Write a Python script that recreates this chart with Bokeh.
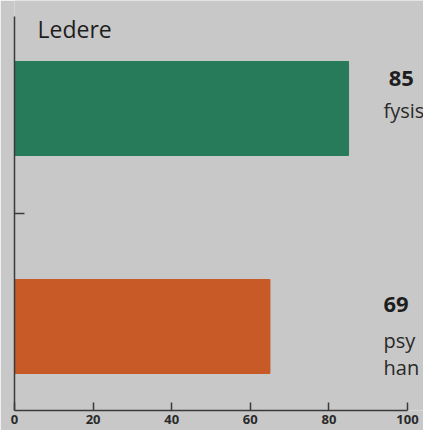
from bokeh.plotting import figure
from bokeh.models import Range1d, LinearAxis, FixedTicker
from bokeh.core.properties import value
from bokeh.embed import file_html
from bokeh.resources import INLINE

# data
categories = ["fysisk", "psykisk"]
bar_values = [85, 65]
value_labels = ["85", "69"]
desc_first = ["fysis", "psy"]
desc_second = ["han"]
group_title = "Ledere"
x_ticks = [0, 20, 40, 60, 80, 100]
colors = ["#277b5a", "#c75a27"]

ypos = [len(categories) - 1 - i for i in range(len(categories))]

FONT = "Open Sans"
BG = "#c8c8c8"
INK = "#1e1e1e"

p = figure(width=423, height=430, output_backend="svg", toolbar_location=None,
           x_range=Range1d(0, 104.07), y_range=Range1d(-0.3853, 1.4954),
           min_border_left=14, min_border_right=0, min_border_top=0, min_border_bottom=20,
           x_axis_location=None, y_axis_location=None)
p.background_fill_color = BG
p.border_fill_color = BG
p.outline_line_color = None
p.xgrid.visible = False
p.ygrid.visible = False

p.hbar(y=ypos, right=bar_values, left=0, height=0.431, fill_color=colors,
       line_color=colors)

xaxis = LinearAxis(ticker=FixedTicker(ticks=x_ticks), bounds=(0, 100))
xaxis.major_tick_in = 8
xaxis.major_tick_out = 0
xaxis.minor_tick_line_color = None
xaxis.axis_line_color = "#3a3a3a"
xaxis.axis_line_width = 1.5
xaxis.major_tick_line_color = "#3a3a3a"
xaxis.major_tick_line_width = 1.5
xaxis.major_label_text_font = FONT
xaxis.major_label_text_font_size = "13px"
xaxis.major_label_text_font_style = "bold"
xaxis.major_label_text_color = "#2a2a2a"
xaxis.major_label_standoff = 4
p.add_layout(xaxis, "below")

yaxis = LinearAxis(ticker=FixedTicker(ticks=[], minor_ticks=[0.52]), bounds=(-0.3853, 1.422))
yaxis.major_tick_in = 0
yaxis.major_tick_out = 0
yaxis.minor_tick_in = 10
yaxis.minor_tick_out = 0
yaxis.minor_tick_line_color = "#3a3a3a"
yaxis.minor_tick_line_width = 1.5
yaxis.major_label_standoff = 0
yaxis.axis_line_color = "#3a3a3a"
yaxis.axis_line_width = 1.5
p.add_layout(yaxis, "left")

# title inside
p.text(x=[5.85], y=[1.3624], text=[group_title], text_font=value(FONT),
       text_font_size="23px", text_color=INK, text_baseline="alphabetic")

# value labels
p.text(x=[95.2, 93.9], y=[y + d for y, d in zip(ypos, [0.1376, 0.1009])], text=value_labels,
       text_font=value(FONT), text_font_size="22px", text_font_style="bold",
       text_color=INK, text_baseline="alphabetic")
p.text(x=[93.9, 93.9], y=[y + d for y, d in zip(ypos, [-0.0092, -0.0642])], text=desc_first,
       text_font=value(FONT), text_font_size="20px", text_color="#2a2a2a",
       text_baseline="alphabetic")
p.text(x=[93.9], y=[ypos[1] - 0.1881], text=desc_second,
       text_font=value(FONT), text_font_size="20px", text_color="#2a2a2a",
       text_baseline="alphabetic")

html = file_html(p, INLINE)
html = html.replace("<head>", "<head><style>html,body{margin:0;padding:0;overflow:hidden;}</style>", 1)
open("out.html", "w").write(html)
